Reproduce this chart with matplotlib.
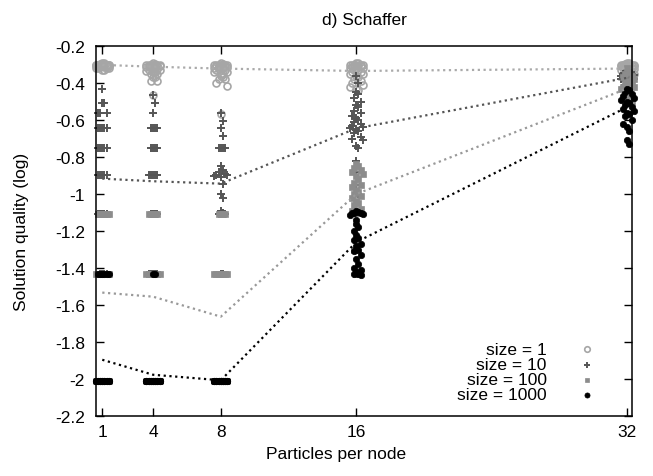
import matplotlib
matplotlib.use("Agg")
import matplotlib.pyplot as plt

plt.rcParams["font.family"] = ["Liberation Sans", "DejaVu Sans"]
plt.rcParams["font.size"] = 12.5

particles = [1, 4, 8, 16, 32]
labels = ["size = 1", "size = 10", "size = 100", "size = 1000"]

# mean lines
mean_s1 = [-0.302, -0.312, -0.322, -0.335, -0.322]
mean_s10 = [-0.917, -0.931, -0.944, -0.645, -0.372]
mean_s100 = [-1.533, -1.555, -1.663, -1.0, -0.43]
mean_s1000 = [-1.896, -1.977, -2.007, -1.26, -0.53]

# raw runs, one list per particle count
s1_runs = [
    [-0.29, -0.29, -0.295, -0.30, -0.30, -0.30, -0.30, -0.30, -0.30, -0.30, -0.30, -0.305, -0.305, -0.305, -0.31,
     -0.31, -0.31, -0.31, -0.31, -0.31, -0.315, -0.315, -0.32, -0.32, -0.32, -0.32, -0.33, -0.33, -0.30, -0.30],
    [-0.29, -0.295, -0.30, -0.30, -0.30, -0.30, -0.30, -0.305, -0.305, -0.31, -0.31, -0.31, -0.31, -0.315, -0.32,
     -0.32, -0.32, -0.325, -0.33, -0.33, -0.335, -0.34, -0.34, -0.35, -0.35, -0.37, -0.37, -0.39, -0.39, -0.464],
    [-0.29, -0.295, -0.30, -0.30, -0.30, -0.30, -0.305, -0.31, -0.31, -0.31, -0.315, -0.32, -0.32, -0.32, -0.325,
     -0.33, -0.33, -0.34, -0.34, -0.35, -0.35, -0.36, -0.37, -0.38, -0.38, -0.40, -0.417, -0.567, -0.30, -0.31],
    [-0.29, -0.29, -0.30, -0.30, -0.30, -0.30, -0.305, -0.31, -0.31, -0.31, -0.315, -0.32, -0.32, -0.325, -0.33,
     -0.33, -0.34, -0.34, -0.35, -0.35, -0.36, -0.37, -0.38, -0.39, -0.40, -0.41, -0.42, -0.43, -0.44, -0.30],
    [-0.29, -0.29, -0.295, -0.30, -0.30, -0.30, -0.30, -0.305, -0.305, -0.31, -0.31, -0.31, -0.315, -0.315, -0.32,
     -0.32, -0.32, -0.325, -0.33, -0.33, -0.335, -0.34, -0.34, -0.35, -0.35, -0.36, -0.36, -0.37, -0.30, -0.31],
]
s10_runs = [
    [-0.432, -0.507, -0.507, -0.563, -0.563, -0.563, -0.642, -0.642, -0.642, -0.642, -0.642, -0.75, -0.75, -0.75,
     -0.75, -0.75, -0.895, -0.895, -0.895, -0.895, -0.895, -1.106, -1.106, -1.106, -1.106, -1.106,
     -1.43, -1.43, -1.43, -1.43],
    [-0.464, -0.507, -0.563, -0.642, -0.642, -0.642, -0.642, -0.75, -0.75, -0.75, -0.75, -0.895, -0.895, -0.895,
     -0.895, -0.895, -1.106, -1.106, -1.106, -1.106, -1.43, -1.43, -1.43, -1.43, -1.43],
    [-0.563, -0.608, -0.645, -0.687, -0.75, -0.75, -0.75, -0.75, -0.85, -0.87, -0.88, -0.89, -0.895, -0.895,
     -0.90, -0.91, -0.944, -1.0, -1.02, -1.09, -1.10, -1.106, -1.106, -1.43, -1.43],
    [-0.36, -0.40, -0.45, -0.46, -0.48, -0.50, -0.52, -0.53, -0.55, -0.56, -0.58, -0.59, -0.60, -0.61, -0.62,
     -0.63, -0.64, -0.645, -0.65, -0.66, -0.67, -0.69, -0.70, -0.71, -0.74, -0.75, -0.82, -0.88, -0.95, -1.0],
    [-0.33, -0.34, -0.345, -0.35, -0.35, -0.355, -0.36, -0.36, -0.365, -0.37, -0.37, -0.375, -0.38, -0.38,
     -0.385, -0.39, -0.39, -0.40, -0.40, -0.41, -0.42],
]
s100_runs = [
    [-1.106] * 6 + [-1.43] * 10 + [-2.01] * 8,
    [-1.106] * 5 + [-1.43] * 12 + [-2.01] * 8,
    [-1.106] * 4 + [-1.43] * 10 + [-2.01] * 12,
    [-0.84, -0.85, -0.86, -0.87, -0.88, -0.89, -0.90, -0.92, -0.94, -0.95, -0.96, -0.98, -0.99, -1.0, -1.01,
     -1.02, -1.04, -1.05, -1.06, -1.08, -1.09, -1.10, -1.10, -1.25, -1.27, -1.30, -1.43],
    [-0.32, -0.34, -0.35, -0.36, -0.37, -0.38, -0.39, -0.40, -0.40, -0.41, -0.42, -0.42, -0.43, -0.44, -0.45,
     -0.46, -0.47, -0.48, -0.50],
]
s1000_runs = [
    [-1.43] * 6 + [-2.01] * 24,
    [-1.43] * 2 + [-2.01] * 28,
    [-2.01] * 30,
    [-1.09, -1.095, -1.10, -1.10, -1.105, -1.11, -1.115, -1.14, -1.16, -1.18, -1.20, -1.22, -1.24, -1.25, -1.27,
     -1.28, -1.30, -1.31, -1.33, -1.35, -1.38, -1.40, -1.41, -1.42, -1.43, -1.43, -1.44],
    [-0.43, -0.44, -0.45, -0.46, -0.47, -0.48, -0.49, -0.50, -0.51, -0.52, -0.53, -0.54, -0.55, -0.56, -0.57,
     -0.58, -0.60, -0.62, -0.64, -0.66, -0.71, -0.73],
]


def jitter(xc, ys, step=0.13, overlap=0.06, wrap=7):
    # gnuplot-like jitter: points that overlap in y are spread sideways
    xs, out = [], []
    row_y = None
    k = 0
    for y in sorted(ys, reverse=True):
        if row_y is None or abs(y - row_y) > overlap:
            row_y = y
            k = 0
        n = k % wrap
        off = (n + 1) // 2 * (1 if n % 2 else -1)
        xs.append(xc + off * step)
        out.append(y)
        k += 1
    return xs, out


series = [
    {"runs": s1_runs, "mean": mean_s1, "marker": "o", "mfc": "none", "mec": "#a6a6a6", "ms": 5.0, "mew": 1.2,
     "line": "#aaaaaa"},
    {"runs": s10_runs, "mean": mean_s10, "marker": "+", "mfc": "#555555", "mec": "#555555", "ms": 5.5, "mew": 1.4,
     "line": "#555555"},
    {"runs": s100_runs, "mean": mean_s100, "marker": "s", "mfc": "#8c8c8c", "mec": "#8c8c8c", "ms": 3.9, "mew": 0.5,
     "line": "#999999"},
    {"runs": s1000_runs, "mean": mean_s1000, "marker": "o", "mfc": "black", "mec": "black", "ms": 4.6, "mew": 0.5,
     "line": "black"},
]

fig = plt.figure(figsize=(6.53, 4.77), dpi=100)
ax = fig.add_axes([96 / 653, 1 - 417 / 477, 536 / 653, 370 / 477])

for s in series:
    for xc, ys in zip(particles, s["runs"]):
        xs, yy = jitter(xc, ys)
        ax.plot(xs, yy, linestyle="none", marker=s["marker"], mfc=s["mfc"], mec=s["mec"],
                ms=s["ms"], mew=s["mew"], clip_on=False, zorder=2)

for s in series:
    ax.plot(particles, s["mean"], color=s["line"], linestyle=(0, (1, 1.6)), lw=1.6, zorder=3)

# legend: right aligned text with the key on its right
rows = [0.181, 0.139, 0.098, 0.057]
for s, lab, ry in zip(series, labels, rows):
    ax.text(0.841, ry, lab, transform=ax.transAxes, ha="right", va="center")
    ax.plot([0.916], [ry], transform=ax.transAxes, linestyle="none", marker=s["marker"], mfc=s["mfc"],
            mec=s["mec"], ms=s["ms"] * 0.8, mew=s["mew"], clip_on=False)

ax.set_xlim(0.63, 32.28)
ax.set_ylim(-2.2, -0.2)
ax.set_xticks(particles)
ax.set_xticklabels([str(p) for p in particles])
yt = [-2.2, -2.0, -1.8, -1.6, -1.4, -1.2, -1.0, -0.8, -0.6, -0.4, -0.2]
ax.set_yticks(yt)
ax.set_yticklabels(["%g" % v for v in yt])
ax.tick_params(direction="in", length=5.5, width=1, top=True, right=True)
ax.tick_params(axis="x", pad=6)
ax.tick_params(axis="y", pad=8)
for sp in ax.spines.values():
    sp.set_linewidth(1.1)

fig.text(364 / 653, 1 - 20 / 477, "d) Schaffer", ha="center", va="center")
fig.text(336 / 653, 1 - 455 / 477, "Particles per node", ha="center", va="center")
fig.text(22 / 653, 1 - 232 / 477, "Solution quality (log)", ha="center", va="center", rotation=90)

fig.savefig("out.png", dpi=100)
